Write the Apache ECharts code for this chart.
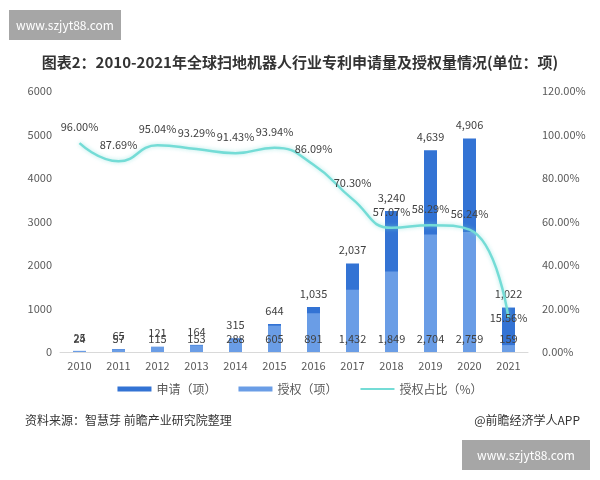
<!DOCTYPE html>
<html>
<head>
<meta charset="utf-8">
<script src="https://cdn.jsdelivr.net/npm/echarts@6/dist/echarts.min.js"></script>
<style>
  html, body { margin: 0; padding: 0; background: #fff; }
  #main { width: 600px; height: 480px; }
</style>
</head>
<body>
<div id="main"></div>
<script>
// data
const years = ['2010', '2011', '2012', '2013', '2014', '2015', '2016', '2017', '2018', '2019', '2020', '2021'];
const applied = [25, 65, 121, 164, 315, 644, 1035, 2037, 3240, 4639, 4906, 1022];
const granted = [24, 57, 115, 153, 288, 605, 891, 1432, 1849, 2704, 2759, 159];
const grantRatio = [96.00, 87.69, 95.04, 93.29, 91.43, 93.94, 86.09, 70.30, 57.07, 58.29, 56.24, 15.56];
const ratioLabelPos = ['top', 'top', 'top', 'top', 'top', 'top', 'top', 'top', 'top', 'top', 'top', 'inside'];

const FONT = '"Noto Sans CJK SC", "Noto Sans", sans-serif';
const fmtNum = v => v.toLocaleString('en-US');

const chart = echarts.init(document.getElementById('main'), null, { renderer: 'canvas' });

chart.setOption({
    backgroundColor: '#fff',
    animation: false,
    textStyle: { fontFamily: FONT },
    title: {
        text: '图表2：2010-2021年全球扫地机器人行业专利申请量及授权量情况(单位：项)',
        left: 'center',
        top: 50,
        textStyle: { fontSize: 15, fontWeight: 'bold', color: '#333', fontFamily: FONT },
    },
    legend: {
        bottom: 80,
        left: 'center',
        itemWidth: 34,
        itemHeight: 5,
        itemGap: 22,
        textStyle: { fontSize: 12, color: '#595959' },
        data: [
            { name: '申请（项）', icon: 'rect' },
            { name: '授权（项）', icon: 'rect' },
            { name: '授权占比（%）', itemStyle: { opacity: 0 } },
        ],
    },
    grid: { left: 60, right: 72, top: 91, bottom: 128 },
    xAxis: {
        type: 'category',
        data: years,
        axisLine: { lineStyle: { color: '#d9d9d9' } },
        axisTick: { show: false },
        axisLabel: { color: '#595959', fontSize: 11, margin: 8 },
    },
    yAxis: [
        {
            type: 'value',
            min: 0, max: 6000, interval: 1000,
            splitLine: { show: false },
            axisLine: { show: false },
            axisTick: { show: false },
            axisLabel: { color: '#595959', fontSize: 11, margin: 8, formatter: v => String(v) },
        },
        {
            type: 'value',
            min: 0, max: 120, interval: 20,
            splitLine: { show: false },
            axisLine: { show: false },
            axisTick: { show: false },
            axisLabel: { color: '#595959', fontSize: 11, margin: 14, formatter: v => v.toFixed(2) + '%' },
        },
    ],
    series: [
        {
            name: '申请（项）',
            type: 'bar',
            data: applied,
            barWidth: 13,
            itemStyle: { color: '#3373d4' },
            label: { show: true, position: 'top', distance: 8, fontSize: 11, color: '#404040', formatter: p => fmtNum(p.value) },
        },
        {
            name: '授权（项）',
            type: 'bar',
            data: granted,
            barWidth: 13,
            barGap: '-100%',
            itemStyle: { color: '#6a9de6' },
            label: { show: true, position: 'insideBottom', distance: 8, fontSize: 11, color: '#404040', formatter: p => fmtNum(p.value) },
        },
        {
            name: '授权占比（%）',
            type: 'line',
            yAxisIndex: 1,
            smooth: true,
            symbol: 'circle',
            symbolSize: 1,
            showSymbol: true,
            data: grantRatio.map((v, i) => ({ value: v, label: { position: ratioLabelPos[i] } })),
            lineStyle: { color: '#74dcd6', width: 2.5, shadowColor: 'rgba(116,220,214,0.6)', shadowBlur: 4 },
            itemStyle: { color: 'rgba(0,0,0,0)' },
            label: { show: true, distance: 10, fontSize: 11, color: '#404040', formatter: p => p.value.toFixed(2) + '%' },
            z: 5,
        },
    ],
    graphic: [
        {
            type: 'group', left: 9, top: 10,
            children: [
                { type: 'rect', shape: { x: 0, y: 0, width: 112, height: 30 }, style: { fill: '#a6a6a6' } },
                { type: 'text', x: 56, y: 15, style: { text: 'www.szjyt88.com', fill: '#fff', fontSize: 12, fontFamily: FONT, align: 'center', verticalAlign: 'middle' } },
            ],
        },
        {
            type: 'group', left: 462, top: 440,
            children: [
                { type: 'rect', shape: { x: 0, y: 0, width: 128, height: 30 }, style: { fill: '#a6a6a6' } },
                { type: 'text', x: 64, y: 15, style: { text: 'www.szjyt88.com', fill: '#fff', fontSize: 12, fontFamily: FONT, align: 'center', verticalAlign: 'middle' } },
            ],
        },
        {
            type: 'text', left: 25, top: 414,
            style: { text: '资料来源：智慧芽 前瞻产业研究院整理', fill: '#333', fontSize: 12, fontFamily: FONT },
        },
        {
            type: 'text', right: 20, top: 414,
            style: { text: '@前瞻经济学人APP', fill: '#333', fontSize: 12, fontFamily: FONT },
        },
    ],
});
</script>
</body>
</html>
